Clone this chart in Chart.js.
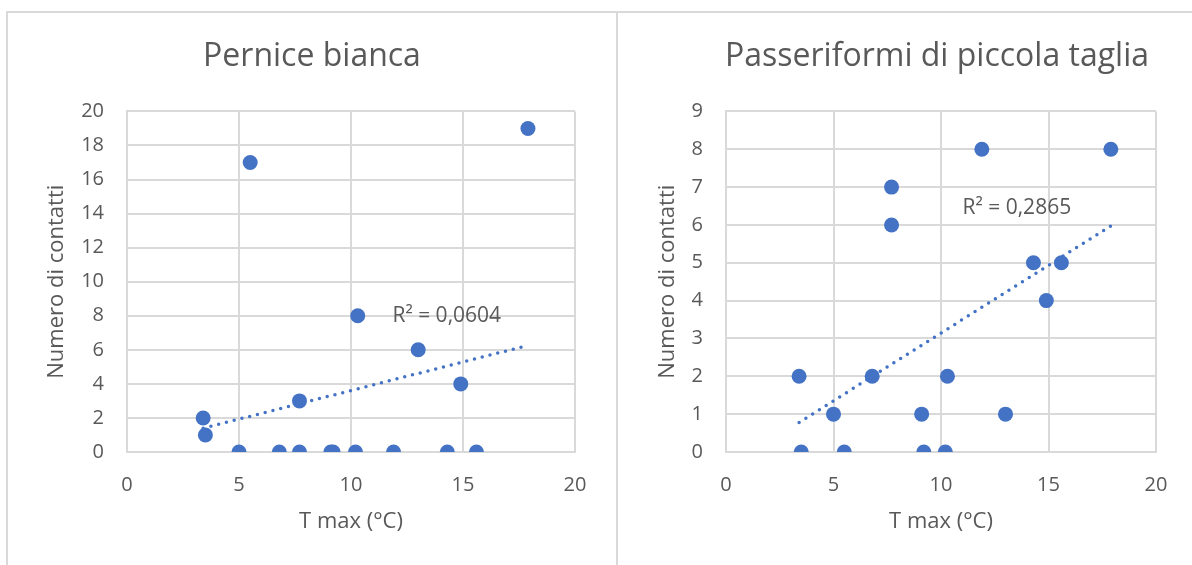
<!DOCTYPE html>
<html lang="it">
<head>
<meta charset="utf-8">
<script src="https://cdn.jsdelivr.net/npm/chart.js@4.4.1/dist/chart.umd.min.js"></script>
<style>
  html, body { margin: 0; padding: 0; background: #fff; width: 1192px; height: 565px; overflow: hidden; }
  .pnl { position: absolute; top: 11px; height: 620px; border: 2px solid #d9d9d9; box-sizing: border-box; background: #fff; }
  #pnlA { left: 6px; width: 612px; }
  #pnlB { left: 616px; width: 700px; }
  canvas { position: absolute; left: 0; top: 0; }
</style>
</head>
<body>
<div class="pnl" id="pnlA"><canvas id="cPernice" width="608" height="552"></canvas></div>
<div class="pnl" id="pnlB"><canvas id="cPasseri" width="638" height="552"></canvas></div>
<script>
// T max (°C) per giornata e numero di contatti
const TMAX = [3.4, 3.5, 5.0, 5.5, 6.8, 7.7, 7.7, 9.1, 9.2, 10.2, 10.3, 11.9, 13.0, 14.3, 14.9, 15.6, 17.9];
const PERNICE = [2, 1, 0, 17, 0, 3, 0, 0, 0, 0, 8, 0, 6, 0, 4, 0, 19];
const PASSERI = [2, 0, 1, 0, 2, 7, 6, 1, 0, 0, 2, 8, 1, 5, 4, 5, 8];

const X_MAX = 20, X_STEP = 5;
const Y_MAX_PERNICE = 20, Y_STEP_PERNICE = 2;
const Y_MAX_PASSERI = 9, Y_STEP_PASSERI = 1;

const R2_PERNICE = "R² = 0,0604";
const R2_PASSERI = "R² = 0,2865";

const BLU = "#4472C4";
const GRIGIO = "#d9d9d9";
const TESTO = "#595959";
const FONT = "'Open Sans', 'Noto Sans', sans-serif";

function punti(xs, ys) {
  return xs.map((x, i) => ({ x: x, y: ys[i] }));
}

// retta dei minimi quadrati, da min(x) a max(x)
function tendenza(xs, ys) {
  const n = xs.length;
  const mx = xs.reduce((a, b) => a + b, 0) / n;
  const my = ys.reduce((a, b) => a + b, 0) / n;
  let sxy = 0, sxx = 0;
  for (let i = 0; i < n; i++) {
    sxy += (xs[i] - mx) * (ys[i] - my);
    sxx += (xs[i] - mx) * (xs[i] - mx);
  }
  const b = sxy / sxx, a = my - b * mx;
  const x0 = Math.min(...xs), x1 = Math.max(...xs);
  return [{ x: x0, y: a + b * x0 }, { x: x1, y: a + b * x1 }];
}

const r2Plugin = {
  id: "r2Label",
  afterDatasetsDraw(chart, args, opts) {
    if (!opts.text) return;
    const ctx = chart.ctx;
    const x = chart.scales.x.getPixelForValue(opts.x);
    const y = chart.scales.y.getPixelForValue(opts.y);
    ctx.save();
    ctx.font = "21px " + FONT;
    ctx.fillStyle = TESTO;
    ctx.textBaseline = "middle";
    ctx.textAlign = "left";
    ctx.fillText(opts.text, x, y);
    ctx.restore();
  },
};

function setChart(id, cfg) {
  const ctx = document.getElementById(id);
  new Chart(ctx, {
    type: "scatter",
    data: {
      datasets: [
        {
          type: "line",
          data: tendenza(TMAX, cfg.ys),
          borderColor: BLU,
          borderWidth: 3.5,
          borderDash: [0, 8],
          borderCapStyle: "round",
          pointRadius: 0,
          fill: false,
          order: 2,
        },
        {
          data: punti(TMAX, cfg.ys),
          backgroundColor: BLU,
          borderWidth: 0,
          pointRadius: 7.5,
          pointHoverRadius: 7.5,
          order: 1,
        },
      ],
    },
    options: {
      responsive: false,
      animation: false,
      events: [],
      layout: { padding: 0 },
      plugins: {
        legend: { display: false },
        tooltip: { enabled: false },
        title: {
          display: true,
          text: cfg.title,
          color: TESTO,
          font: { family: FONT, size: 32, weight: "normal" },
          padding: { top: 25, bottom: 35 },
        },
        r2Label: { text: cfg.r2, x: cfg.r2x, y: cfg.r2y },
      },
      scales: {
        x: {
          type: "linear",
          min: 0,
          max: X_MAX,
          ticks: { stepSize: X_STEP, padding: 21, color: TESTO, font: { family: FONT, size: 20 } },
          grid: { color: GRIGIO, lineWidth: 2, drawTicks: false },
          border: { color: GRIGIO, width: 2 },
          title: {
            display: true,
            text: "T max (°C)",
            color: TESTO,
            font: { family: FONT, size: 22 },
            padding: { top: 0, bottom: 30 },
          },
          afterFit: (s) => { s.height = 113; },
        },
        y: {
          type: "linear",
          min: 0,
          max: cfg.yMax,
          ticks: { stepSize: cfg.yStep, padding: 23, color: TESTO, font: { family: FONT, size: 20 } },
          grid: { color: GRIGIO, lineWidth: 2, drawTicks: false },
          border: { color: GRIGIO, width: 2 },
          title: {
            display: true,
            text: "Numero di contatti",
            color: TESTO,
            font: { family: FONT, size: 22 },
            padding: { top: cfg.yTitlePad, bottom: 0 },
          },
          afterFit: (s) => { s.width = cfg.yWidth; },
        },
        // spazio vuoto a destra dell'area del grafico
        yR: {
          type: "linear",
          position: "right",
          min: 0,
          max: 1,
          ticks: { display: false },
          grid: { display: false, drawTicks: false },
          border: { display: false },
          afterFit: (s) => { s.width = cfg.rightWidth; },
        },
      },
    },
    plugins: [r2Plugin],
  });
}

setChart("cPernice", {
  title: "Pernice bianca",
  ys: PERNICE,
  yMax: Y_MAX_PERNICE,
  yStep: Y_STEP_PERNICE,
  r2: R2_PERNICE,
  r2x: 11.85,
  r2y: 8,
  yWidth: 119,
  rightWidth: 41,
  yTitlePad: 36,
});

setChart("cPasseri", {
  title: "Passeriformi di piccola taglia",
  ys: PASSERI,
  yMax: Y_MAX_PASSERI,
  yStep: Y_STEP_PASSERI,
  r2: R2_PASSERI,
  r2x: 11.0,
  r2y: 6.46,
  yWidth: 108,
  rightWidth: 100,
  yTitlePad: 37,
});
</script>
</body>
</html>
